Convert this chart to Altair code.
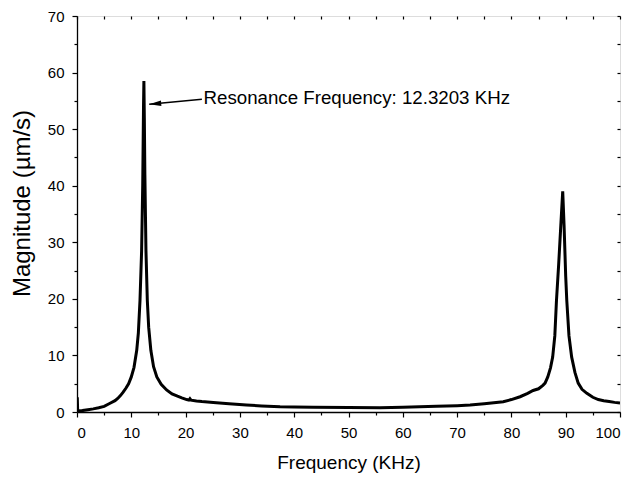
import altair as alt
import pandas as pd

# Frequency (kHz) and magnitude (um/s)
freq = [0.0, 0.05, 0.12, 0.5, 1, 2, 3, 4, 5, 6, 7, 7.5, 8, 8.5, 9, 9.5, 10, 10.5,
        11, 11.3, 11.6, 11.9, 12.1, 12.25, 12.32, 12.4, 12.5, 12.7, 12.95, 13.2,
        13.6, 14.1, 14.7, 15.5, 16.5, 17.5, 18.5, 19.3, 20.2, 20.6, 20.8, 21, 22,
        23, 25.1, 28, 31.2, 34, 37.4, 40, 43.5, 50, 55.8, 60, 66.2, 70, 72.4, 75,
        78.5, 80, 81.6, 83, 84, 85, 85.8, 86.2, 86.7, 87.2, 87.6, 88, 88.3, 88.7,
        89.1, 89.45, 89.7, 90, 90.2, 90.6, 91.1, 91.7, 92.3, 93, 93.9, 95, 96, 97,
        98, 99, 100]
mag = [0.3, 2.6, 0.3, 0.2, 0.25, 0.4, 0.55, 0.75, 1.0, 1.5, 2.0, 2.4, 2.9, 3.5,
       4.2, 5.0, 6.2, 7.9, 10.9, 14.0, 19.7, 28.5, 40.0, 54.0, 58.5, 52.0, 42.0,
       28.5, 19.7, 15.0, 10.9, 8.0, 6.2, 4.9, 3.9, 3.2, 2.8, 2.5, 2.2, 2.1, 2.35,
       2.1, 1.95, 1.85, 1.7, 1.45, 1.23, 1.07, 0.93, 0.88, 0.83, 0.78, 0.76, 0.82,
       1.0, 1.12, 1.23, 1.45, 1.8, 2.2, 2.7, 3.3, 3.8, 4.1, 4.7, 5.1, 6.2, 7.8,
       9.7, 13.5, 19.7, 26.0, 33.0, 39.0, 33.0, 24.0, 19.7, 13.5, 9.7, 7.0, 5.1,
       4.0, 3.3, 2.6, 2.2, 2.0, 1.85, 1.7, 1.6]

x_major = [0, 10, 20, 30, 40, 50, 60, 70, 80, 90, 100]
x_minor = [5, 15, 25, 35, 45, 55, 65, 75, 85, 95]
x_all = [0, 5, 10, 15, 20, 25, 30, 35, 40, 45, 50, 55, 60, 65, 70, 75, 80, 85, 90, 95, 100]
y_major = [0, 10, 20, 30, 40, 50, 60, 70]
y_minor = [5, 15, 25, 35, 45, 55, 65]
y_all = [0, 5, 10, 15, 20, 25, 30, 35, 40, 45, 50, 55, 60, 65, 70]

note_text = ["Resonance Frequency: 12.3203 KHz"]
note_x = [23.3]
note_y = [55.5]
arrow_x = [23.0, 13.3]
arrow_y = [55.3, 54.4]

df = pd.DataFrame({"f": freq, "m": mag})
note_df = pd.DataFrame({"t": note_text, "x": note_x, "y": note_y})
arrow_df = pd.DataFrame({"x": arrow_x, "y": arrow_y, "o": [0, 1]})
head_df = arrow_df.iloc[[1]]

FONT = "Liberation Sans"
xs = alt.Scale(domain=[0, 100], nice=False, zero=False)
ys = alt.Scale(domain=[0, 70], nice=False, zero=False)


def ax(orient, values, size, labels, title=None, offset=0, domain=False, tpad=4,
       tsize=19, **extra):
    return alt.Axis(
        orient=orient, values=values, tickSize=size, labels=labels,
        domain=domain, grid=False, tickColor="black", tickWidth=1.2,
        domainColor="black", domainWidth=1.3, offset=offset,
        labelFont=FONT, labelFontSize=15, labelColor="black",
        labelPadding=8, titleFont=FONT, titleFontSize=tsize,
        titleFontWeight="normal", titleColor="black", titlePadding=tpad,
        title=title, **extra
    )


line = alt.Chart(df).mark_line(color="black", strokeWidth=3, clip=True).encode(
    x=alt.X("f:Q", scale=xs,
            axis=ax("bottom", x_major, 5, True, "Frequency (KHz)", domain=True, tpad=13)),
    y=alt.Y("m:Q", scale=ys,
            axis=ax("left", y_major, 5, True, "Magnitude (µm/s)", domain=True,
                    tpad=13, tsize=24, titleY=187)),
    order="f:Q",
)

minor = alt.Chart(df).mark_line(opacity=0).encode(
    x=alt.X("f:Q", scale=xs, axis=ax("bottom", x_minor, 3, False)),
    y=alt.Y("m:Q", scale=ys, axis=ax("left", y_minor, 3, False)),
)

mirror = alt.Chart(df).mark_line(opacity=0).encode(
    x=alt.X("f:Q", scale=xs, axis=ax("top", x_all, 3, False, offset=-3)),
    y=alt.Y("m:Q", scale=ys, axis=ax("right", y_all, 3, False, offset=-3)),
)

arrow = alt.Chart(arrow_df).mark_line(color="black", strokeWidth=1.5).encode(
    x=alt.X("x:Q", scale=xs, axis=None),
    y=alt.Y("y:Q", scale=ys, axis=None),
    order="o:Q")

head = alt.Chart(head_df).mark_point(
    shape="M0,0 L2,-0.45 L2,0.45 Z", size=144, filled=True, color="black",
    opacity=1, angle=355).encode(
    x=alt.X("x:Q", scale=xs, axis=None),
    y=alt.Y("y:Q", scale=ys, axis=None))

note = alt.Chart(note_df).mark_text(
    align="left", baseline="middle", font=FONT, fontSize=18.7, color="black").encode(
    x=alt.X("x:Q", scale=xs, axis=None),
    y=alt.Y("y:Q", scale=ys, axis=None),
    text="t:N")

chart = alt.layer(line, minor, mirror, arrow, head, note).resolve_axis(
    x="independent", y="independent"
).properties(
    width=543, height=396,
    autosize=alt.AutoSizeParams(type="none"),
    padding={"left": 69, "top": 8, "right": 16, "bottom": 62},
).configure_view(stroke="black", strokeWidth=1.3).configure(background="white")

chart.save("out.html", embed_options={"renderer": "svg", "actions": False})
